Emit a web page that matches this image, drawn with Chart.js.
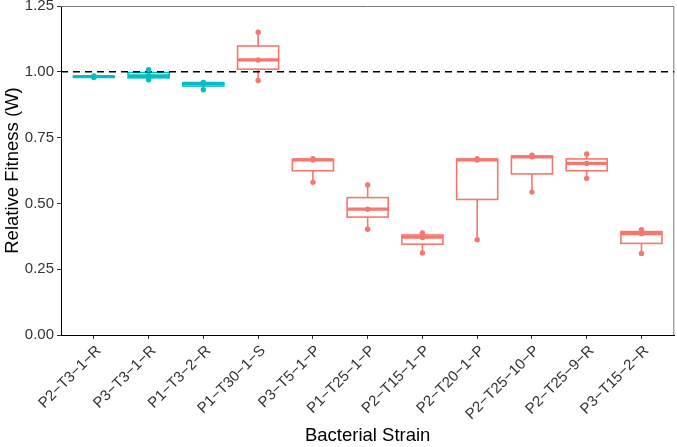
<!DOCTYPE html>
<html>
<head>
<meta charset="utf-8">
<script src="https://cdn.jsdelivr.net/npm/chart.js@4.4.1/dist/chart.umd.min.js"></script>
<style>
  html, body { margin: 0; padding: 0; background: #fff; }
</style>
</head>
<body>
<canvas id="fitnessChart" width="677" height="447"></canvas>
<script>
// strains on the x axis
const strains = [
  "P2−T3−1−R", "P3−T3−1−R", "P1−T3−2−R", "P1−T30−1−S", "P3−T5−1−P",
  "P1−T25−1−P", "P2−T15−1−P", "P2−T20−1−P", "P2−T25−10−P", "P2−T25−9−R", "P3−T15−2−R"
];

// replicate fitness values per strain
const fitness = [
  [0.978, 0.982, 0.984],
  [0.970, 0.985, 1.008],
  [0.932, 0.956, 0.960],
  [0.967, 1.045, 1.150],
  [0.580, 0.665, 0.670],
  [0.402, 0.478, 0.570],
  [0.312, 0.370, 0.388],
  [0.362, 0.665, 0.670],
  [0.543, 0.677, 0.683],
  [0.595, 0.652, 0.688],
  [0.310, 0.385, 0.400]
];

// box statistics
const q1     = [0.980, 0.977, 0.946, 1.010, 0.624, 0.448, 0.345, 0.515, 0.612, 0.624, 0.348];
const median = [0.982, 0.985, 0.956, 1.045, 0.665, 0.478, 0.372, 0.665, 0.677, 0.652, 0.385];
const q3     = [0.983, 0.997, 0.958, 1.098, 0.668, 0.522, 0.380, 0.668, 0.680, 0.669, 0.393];

const groupColor = ["#00BFC4", "#00BFC4", "#00BFC4", "#F8766D", "#F8766D", "#F8766D",
                    "#F8766D", "#F8766D", "#F8766D", "#F8766D", "#F8766D"];

const yTicks = [0, 0.25, 0.5, 0.75, 1.0, 1.25];
const reference = 1.0;

const BOX_WIDTH = 0.75;
const FONT = "'Liberation Sans', Arial, sans-serif";

// points
const points = [];
const pointColors = [];
fitness.forEach((vals, i) => {
  vals.forEach(v => {
    points.push({ x: i + 1, y: v });
    pointColors.push(groupColor[i]);
  });
});

// boxes, whiskers, panel border and reference line
const boxPlugin = {
  id: 'boxes',
  beforeDatasetsDraw(chart) {
    const { ctx, chartArea: a, scales: { x, y } } = chart;
    ctx.save();

    // top / right panel border
    ctx.strokeStyle = '#777';
    ctx.lineWidth = 1;
    ctx.beginPath();
    ctx.moveTo(a.left, a.top + 0.5);
    ctx.lineTo(a.right - 0.5, a.top + 0.5);
    ctx.lineTo(a.right - 0.5, a.bottom);
    ctx.stroke();

    strains.forEach((s, i) => {
      const c = groupColor[i];
      const xc = x.getPixelForValue(i + 1);
      const x0 = x.getPixelForValue(i + 1 - BOX_WIDTH / 2);
      const x1 = x.getPixelForValue(i + 1 + BOX_WIDTH / 2);
      const lo = Math.min(...fitness[i]);
      const hi = Math.max(...fitness[i]);
      const yq1 = y.getPixelForValue(q1[i]);
      const yq3 = y.getPixelForValue(q3[i]);
      const ymed = y.getPixelForValue(median[i]);

      ctx.strokeStyle = c;
      ctx.lineWidth = 1.6;
      // whiskers
      ctx.beginPath();
      ctx.moveTo(xc, y.getPixelForValue(hi));
      ctx.lineTo(xc, yq3);
      ctx.moveTo(xc, yq1);
      ctx.lineTo(xc, y.getPixelForValue(lo));
      ctx.stroke();
      // box
      ctx.fillStyle = '#fff';
      ctx.fillRect(x0, yq3, x1 - x0, yq1 - yq3);
      ctx.strokeRect(x0, yq3, x1 - x0, yq1 - yq3);
      // median
      ctx.lineWidth = 3.2;
      ctx.beginPath();
      ctx.moveTo(x0, ymed);
      ctx.lineTo(x1, ymed);
      ctx.stroke();
    });

    // dashed reference line at W = 1
    const yr = y.getPixelForValue(reference);
    ctx.strokeStyle = '#000';
    ctx.lineWidth = 1.5;
    ctx.setLineDash([7, 5]);
    ctx.beginPath();
    ctx.moveTo(a.left, yr);
    ctx.lineTo(a.right, yr);
    ctx.stroke();

    ctx.restore();
  }
};

const ctx = document.getElementById('fitnessChart').getContext('2d');
new Chart(ctx, {
  type: 'scatter',
  data: {
    datasets: [{
      data: points,
      pointRadius: 2.7,
      pointHoverRadius: 2.7,
      pointBackgroundColor: pointColors,
      pointBorderWidth: 0
    }]
  },
  options: {
    responsive: false,
    animation: false,
    layout: { padding: { top: 6, right: 1, left: 0, bottom: 0 } },
    plugins: { legend: { display: false }, tooltip: { enabled: false } },
    scales: {
      x: {
        type: 'linear',
        min: 0.4,
        max: strains.length + 0.6,
        afterBuildTicks: axis => { axis.ticks = strains.map((s, i) => ({ value: i + 1 })); },
        afterFit: axis => { axis.height = 112; axis.paddingLeft = 0; axis.paddingRight = 0; },
        grid: { drawOnChartArea: false, tickLength: 4, tickColor: '#333', lineWidth: 1 },
        border: { color: '#000', width: 1 },
        ticks: {
          autoSkip: false,
          minRotation: 45,
          maxRotation: 45,
          padding: 3,
          labelOffset: 5,
          color: '#333',
          font: { family: FONT, size: 15 },
          callback: v => strains[v - 1]
        },
        title: {
          display: true,
          text: 'Bacterial Strain',
          color: '#000',
          font: { family: FONT, size: 18.5 },
          padding: { top: 0, bottom: 0 }
        }
      },
      y: {
        min: 0,
        max: 1.25,
        afterBuildTicks: axis => { axis.ticks = yTicks.map(v => ({ value: v })); },
        afterFit: axis => { axis.width = 61; axis.paddingTop = 0; axis.paddingBottom = 0; },
        grid: { drawOnChartArea: false, tickLength: 4, tickColor: '#333', lineWidth: 1 },
        border: { color: '#000', width: 1 },
        ticks: {
          padding: 3,
          color: '#333',
          font: { family: FONT, size: 15 },
          callback: v => v.toFixed(2)
        },
        title: {
          display: true,
          text: 'Relative Fitness (W)',
          color: '#000',
          font: { family: FONT, size: 18.5 },
          padding: { top: 2, bottom: 0 }
        }
      }
    }
  },
  plugins: [boxPlugin]
});
</script>
</body>
</html>
